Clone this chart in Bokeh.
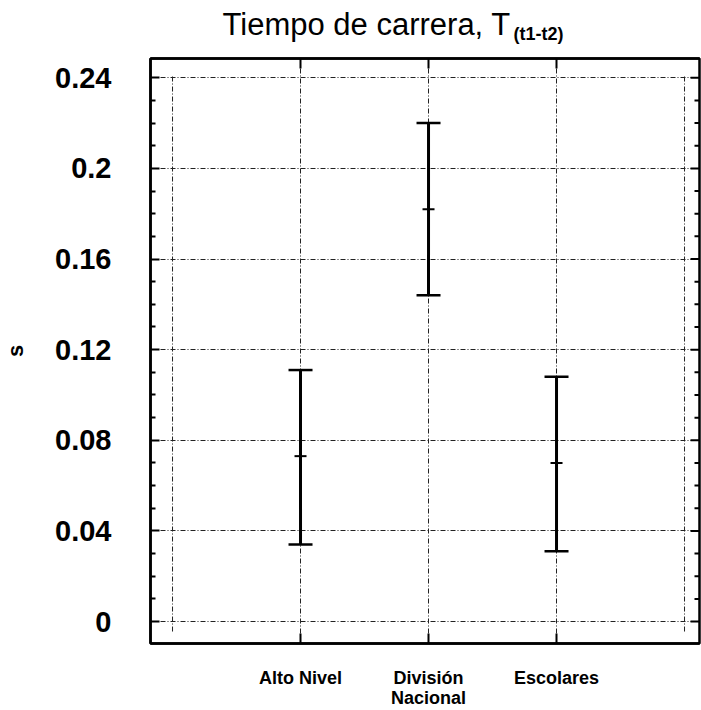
import numpy as np
from bokeh.plotting import figure
from bokeh.layouts import column
from bokeh.models import ColumnDataSource, Range1d, LinearAxis, FixedTicker, Grid
from bokeh.core.properties import value
from bokeh.embed import file_html
from bokeh.resources import INLINE

# ---- data ----
categories = ["Alto Nivel", "División\nNacional", "Escolares"]
cat_x = [1, 2, 3]
mean_vals = [0.073, 0.182, 0.070]
lower_vals = [0.034, 0.144, 0.031]
upper_vals = [0.111, 0.220, 0.108]
y_ticks = [0, 0.04, 0.08, 0.12, 0.16, 0.2, 0.24]
y_minor_ticks = [0.01, 0.02, 0.03, 0.05, 0.06, 0.07, 0.09, 0.10, 0.11, 0.13, 0.14,
                 0.15, 0.17, 0.18, 0.19, 0.21, 0.22, 0.23]
y_tick_labels = ["0", "0.04", "0.08", "0.12", "0.16", "0.2", "0.24"]
title_main = "Tiempo de carrera, T"
title_sub = "(t1-t2)"
y_label = "s"

FONT = "Liberation Sans"
W = 701
HT = 44           # title strip height
HM = 666          # main figure height
FL, FR, FT, FB = 150, 699, 14, 600   # main frame (canvas px)
X0, X1 = -0.172, 4.117
Y0, Y1 = -0.00969, 0.2485
PXX = (X1 - X0) / (FR - FL)   # data units per pixel (x)

# ---- title strip ----
tf = figure(width=W, height=HT, output_backend="svg", toolbar_location=None,
            x_range=Range1d(FL, FR), y_range=Range1d(HT, 0),
            min_border_left=FL, min_border_right=W - FR, min_border_top=0,
            min_border_bottom=0, x_axis_location=None, y_axis_location=None)
tf.title.visible = False
tf.outline_line_color = None
tf.xgrid.visible = False
tf.ygrid.visible = False
tf.text(x=[222], y=[24], text=[title_main], text_font=value(FONT),
        text_font_size="31px", text_align="left", text_baseline="alphabetic",
        text_color="black")
tf.text(x=[513], y=[33], text=[title_sub], text_font=value(FONT),
        text_font_size="18px", text_font_style="bold", text_align="left",
        text_baseline="alphabetic", text_color="black")

# ---- main plot ----
p = figure(width=W, height=HM, output_backend="svg", toolbar_location=None,
           x_range=Range1d(X0, X1), y_range=Range1d(Y0, Y1),
           min_border_left=FL, min_border_right=W - FR, min_border_top=FT,
           min_border_bottom=HM - FB, x_axis_location=None, y_axis_location=None)
p.title.visible = False
p.outline_line_color = "black"
p.outline_line_width = 2.5
p.xgrid.visible = False
p.ygrid.visible = False

def make_axis(loc, kind):
    ax = LinearAxis()
    ax.axis_line_width = 2.5
    ax.axis_line_color = "black"
    ax.major_tick_line_width = 2
    ax.minor_tick_line_width = 2
    ax.major_tick_out = 0
    ax.minor_tick_out = 0
    ax.axis_label_standoff = 0
    if kind == "x":
        ax.ticker = FixedTicker(ticks=cat_x)
        ax.major_tick_in = 10
        ax.minor_tick_in = 0
    else:
        ax.ticker = FixedTicker(ticks=y_ticks, minor_ticks=y_minor_ticks)
        ax.major_tick_in = 9
        ax.minor_tick_in = 5
    ax.major_label_standoff = 0
    p.add_layout(ax, loc)
    return ax

xax = make_axis("below", "x")
xax.major_label_overrides = {v: s for v, s in zip(cat_x, categories)}
xax.major_label_text_font = FONT
xax.major_label_text_font_size = "18px"
xax.major_label_text_font_style = "bold"
xax.major_label_text_color = "black"
xax.major_label_standoff = 24
xax.major_label_text_line_height = 1.0

tax = make_axis("above", "x")
tax.major_label_overrides = {v: "" for v in cat_x}
tax.major_label_text_font_size = "0px"

yax = make_axis("left", "y")
yax.major_label_text_font_size = "29px"
yax.major_label_text_font = FONT
yax.major_label_text_font_style = "bold"
yax.major_label_text_color = "black"
yax.major_label_standoff = 39
yax.major_label_overrides = {v: s for v, s in zip(y_ticks, y_tick_labels)}
yax.axis_label = y_label
yax.axis_label_text_font = FONT
yax.axis_label_text_font_size = "22px"
yax.axis_label_text_font_style = "bold"
yax.axis_label_text_color = "black"
yax.axis_label_standoff = 24

# right-hand inward ticks (mirror of the left axis ticks)
p.segment(x0=[X1 - 9 * PXX] * len(y_ticks), x1=[X1] * len(y_ticks), y0=y_ticks, y1=y_ticks,
          line_color="black", line_width=2)
p.segment(x0=[X1 - 5 * PXX] * len(y_minor_ticks), x1=[X1] * len(y_minor_ticks),
          y0=y_minor_ticks, y1=y_minor_ticks, line_color="black", line_width=2)

grid_dash = "5 2 1 2"
p.add_layout(Grid(dimension=0, ticker=FixedTicker(ticks=cat_x), grid_line_color="#222222",
                  grid_line_width=1, grid_line_dash=grid_dash))
p.add_layout(Grid(dimension=1, ticker=FixedTicker(ticks=y_ticks), grid_line_color="#222222",
                  grid_line_width=1, grid_line_dash=grid_dash))

def dy(c):
    return Y1 - (c - FT) * (Y1 - Y0) / (FB - FT)

outer_x = [0, 4]
p.segment(x0=outer_x, x1=outer_x, y0=[dy(FB - 12)] * 2, y1=[dy(FT + 17)] * 2,
          line_color="#222222", line_width=1, line_dash=grid_dash)

# ---- error bars ----
cap_w = 12 * PXX
mid_w = 6 * PXX
xa = np.array(cat_x, dtype=float)
src = ColumnDataSource(dict(x=xa, lo=lower_vals, hi=upper_vals, m=mean_vals,
                            cl=xa - cap_w, cr=xa + cap_w, ml=xa - mid_w, mr=xa + mid_w))
p.segment(x0="x", x1="x", y0="lo", y1="hi", source=src, line_color="black", line_width=3)
p.segment(x0="cl", x1="cr", y0="hi", y1="hi", source=src, line_color="black", line_width=2.5)
p.segment(x0="cl", x1="cr", y0="lo", y1="lo", source=src, line_color="black", line_width=2.5)
p.segment(x0="ml", x1="mr", y0="m", y1="m", source=src, line_color="black", line_width=2)

layout = column(tf, p, spacing=0)
open("out.html", "w").write(file_html(layout, INLINE))
